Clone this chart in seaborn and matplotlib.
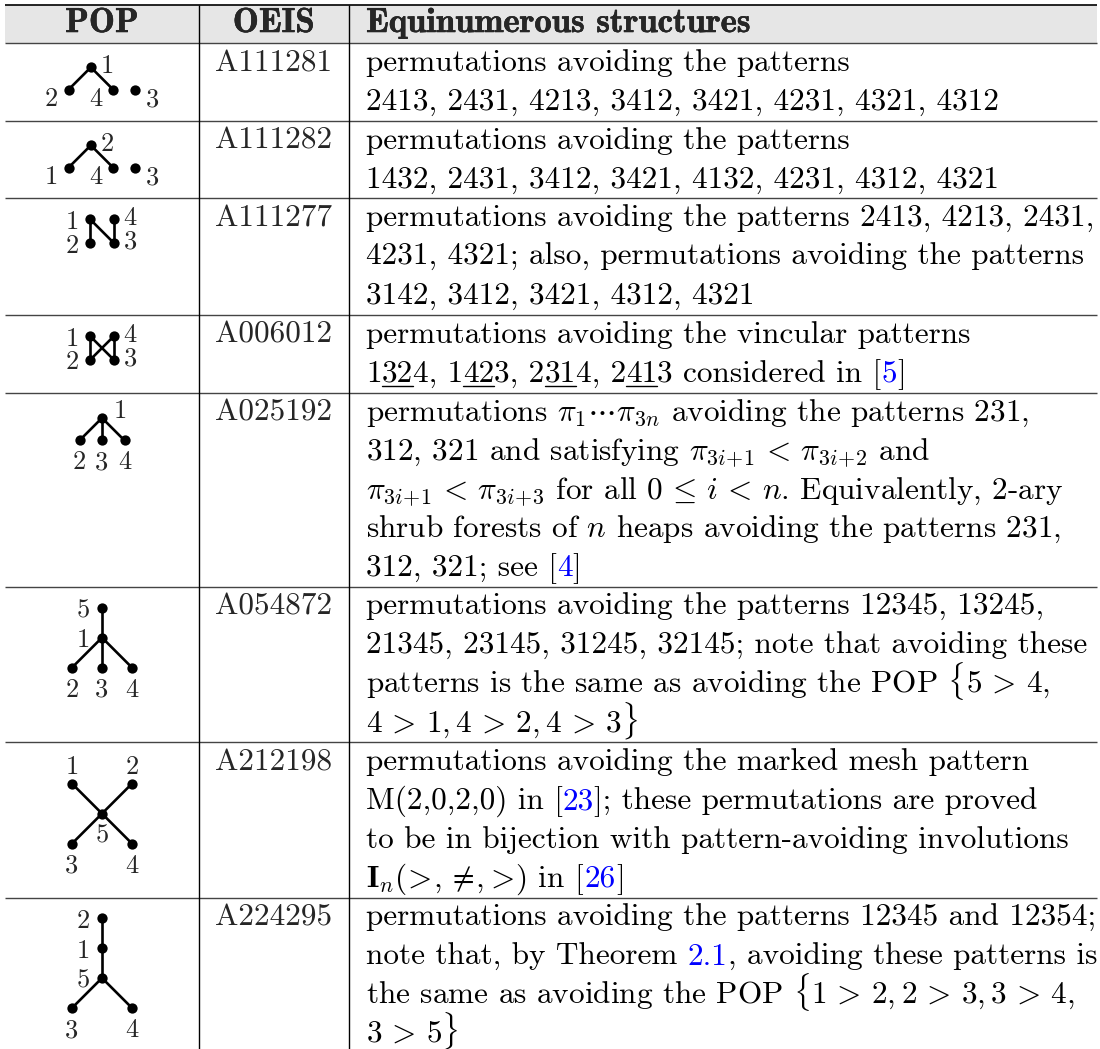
import re
import matplotlib
matplotlib.use("Agg")
import matplotlib.pyplot as plt
import matplotlib.patheffects as pe
import seaborn as sns

# ---- table content ----
headers = ["POP", "OEIS", "Equinumerous structures"]

oeis_ids = ["A111281", "A111282", "A111277", "A006012",
            "A025192", "A054872", "A212198", "A224295"]

# «..» = blue link, ‹..› = underlined
descriptions = [
    ["permutations avoiding the patterns",
     "2413, 2431, 4213, 3412, 3421, 4231, 4321, 4312"],
    ["permutations avoiding the patterns",
     "1432, 2431, 3412, 3421, 4132, 4231, 4312, 4321"],
    ["permutations avoiding the patterns 2413, 4213, 2431,",
     "4231, 4321; also, permutations avoiding the patterns",
     "3142, 3412, 3421, 4312, 4321"],
    ["permutations avoiding the vincular patterns",
     "1‹32›4, 1‹42›3, 2‹31›4, 2‹41›3 considered in [«5»]"],
    [r"permutations $\pi_1\cdots\pi_{3n}$ avoiding the patterns 231,",
     r"312, 321 and satisfying $\pi_{3i\!+\!1}\,<\,\pi_{3i\!+\!2}$ and",
     r"$\pi_{3i\!+\!1}\,<\,\pi_{3i\!+\!3}$ for all $0\,\leq\,i\,<\,n$. Equivalently, 2-ary",
     r"shrub forests of $n$ heaps avoiding the patterns 231,",
     "312, 321; see [«4»]"],
    ["permutations avoiding the patterns 12345, 13245,",
     "21345, 23145, 31245, 32145; note that avoiding these",
     r"patterns is the same as avoiding the POP $\{5\,>\,4,$",
     r"$4\,>\,1,4\,>\,2,4\,>\,3\}$"],
    ["permutations avoiding the marked mesh pattern",
     "M(2,0,2,0) in [«23»]; these permutations are proved",
     "to be in bijection with pattern-avoiding involutions",
     r"$\mathbf{I}_n(\!>\!,\neq\!,\!>\!)$ in [«26»]"],
    ["permutations avoiding the patterns 12345 and 12354;",
     "note that, by Theorem «2.1», avoiding these patterns is",
     r"the same as avoiding the POP $\{1\,>\,2,2\,>\,3,3\,>\,4,$",
     r"$3\,>\,5\}$"],
]

# POP diagrams: node -> (column, level), edges, label side per node
pop_nodes = [
    {"1": (-0.5, 0), "2": (-1.5, 1), "4": (0.5, 1), "3": (1.5, 1)},
    {"2": (-0.5, 0), "1": (-1.5, 1), "4": (0.5, 1), "3": (1.5, 1)},
    {"1": (-0.5, 0), "4": (0.5, 0), "2": (-0.5, 1), "3": (0.5, 1)},
    {"1": (-0.5, 0), "4": (0.5, 0), "2": (-0.5, 1), "3": (0.5, 1)},
    {"1": (0, 0), "2": (-1, 1), "3": (0, 1), "4": (1, 1)},
    {"5": (0, 0), "1": (0, 1), "2": (-1, 2), "3": (0, 2), "4": (1, 2)},
    {"1": (-1, 0), "2": (1, 0), "5": (0, 1), "3": (-1, 2), "4": (1, 2)},
    {"2": (0, 0), "1": (0, 1), "5": (0, 2), "3": (-1, 3), "4": (1, 3)},
]
pop_edges = [
    [("1", "2"), ("1", "4")],
    [("2", "1"), ("2", "4")],
    [("1", "2"), ("1", "3"), ("4", "3")],
    [("1", "2"), ("4", "3"), ("1", "3"), ("4", "2")],
    [("1", "2"), ("1", "3"), ("1", "4")],
    [("5", "1"), ("1", "2"), ("1", "3"), ("1", "4")],
    [("1", "5"), ("2", "5"), ("5", "3"), ("5", "4")],
    [("2", "1"), ("1", "5"), ("5", "3"), ("5", "4")],
]
pop_sides = [
    {"1": "E", "2": "SW", "4": "SW", "3": "SE"},
    {"2": "E", "1": "SW", "4": "SW", "3": "SE"},
    {"1": "W", "4": "E", "2": "W", "3": "E"},
    {"1": "W", "4": "E", "2": "W", "3": "E"},
    {"1": "NE", "2": "S", "3": "S", "4": "S"},
    {"5": "W", "1": "W", "2": "S", "3": "S", "4": "S"},
    {"1": "N", "2": "N", "5": "S", "3": "S", "4": "S"},
    {"2": "W", "1": "W", "5": "W", "3": "S", "4": "S"},
]
# layout of each diagram: pixels per unit, offset of level 0 below row top
pop_unit = [22.3, 22.3, 23.5, 23.5, 22.5, 30, 30, 30]
pop_y0 = [24.3, 24.6, 21.0, 21.3, 25.3, 20.7, 41.3, 20.3]
side_px = {"E": (16.5, -2.5), "W": (-18.3, 1.5), "S": (0, 20.8), "N": (0, -18.3),
           "NE": (18.3, -8.3), "SW": (-17.2, 8.7), "SE": (16.7, 8.7)}

# ---- style ----
sns.set_theme(style="white")
plt.rcParams["mathtext.fontset"] = "cm"
plt.rcParams["axes.unicode_minus"] = False

W, H = 1100, 1049
FS = 22.5
FS_HEAD = 25
FS_LAB = 19
LINE = 38.85
X_L, X_R = 5, 1097
X_C1, X_C2 = 199, 348.5
HEAD_TOP, HEAD_BOT = 4.5, 43
TEXT_X = 366
LINK = "#0000ff"

fig = plt.figure(figsize=(W / 100, H / 100), dpi=100)
ax = fig.add_axes([0, 0, 1, 1])
ax.set_xlim(0, W)
ax.set_ylim(H, 0)
ax.axis("off")
renderer = fig.canvas.get_renderer()


def text_width(s):
    t = ax.text(0, 0, s, fontsize=FS, family="cmr10")
    w = t.get_window_extent(renderer).width
    t.remove()
    return w


def draw_line(x, y, line):
    parts = re.split(r"(«[^»]*»|‹[^›]*›)", line)
    prefix = ""
    for p in parts:
        if not p:
            continue
        style = "n"
        if p.startswith("«"):
            style, p = "link", p[1:-1]
        elif p.startswith("‹"):
            style, p = "ul", p[1:-1]
        dx = text_width(prefix + "x") - text_width("x") if prefix else 0
        ax.text(x + dx, y, p, fontsize=FS, family="cmr10", va="baseline", ha="left",
                color=LINK if style == "link" else "black")
        if style == "ul":
            w = text_width(p)
            ax.plot([x + dx, x + dx + w], [y + 4.5, y + 4.5], color="black", lw=1.0)
        prefix += p


# header
bold = [pe.withStroke(linewidth=0.35, foreground="black")]
ax.fill_between([X_L, X_R], HEAD_TOP, HEAD_BOT, color="#e6e6e6", lw=0, zorder=0)
hb = HEAD_TOP + 27.5
ax.text((X_L + X_C1) / 2, hb, headers[0], fontsize=FS_HEAD, family="cmb10",
        ha="center", va="baseline", path_effects=bold)
ax.text((X_C1 + X_C2) / 2, hb, headers[1], fontsize=FS_HEAD, family="cmb10",
        ha="center", va="baseline", path_effects=bold)
ax.text(TEXT_X, hb, headers[2], fontsize=FS_HEAD, family="cmb10",
        ha="left", va="baseline", path_effects=bold)

# rows
row_tops = [HEAD_BOT]
for lines in descriptions:
    row_tops.append(row_tops[-1] + len(lines) * LINE)

ax.hlines([HEAD_TOP], X_L, X_R, color="black", lw=1.2)
ax.hlines(row_tops, X_L, X_R, color="#444444", lw=1.0)
ax.vlines([X_C1, X_C2], HEAD_TOP, H, color="black", lw=1.0)

for i, lines in enumerate(descriptions):
    top = row_tops[i]
    base = top + 28
    ax.text((X_C1 + X_C2) / 2, base, oeis_ids[i], fontsize=FS, family="cmr10",
            ha="center", va="baseline")
    for j, line in enumerate(lines):
        draw_line(TEXT_X, base + j * LINE, line)

    # POP diagram in its own axes, coordinates in grid units
    s = pop_unit[i]
    y0 = pop_y0[i]
    h = row_tops[i + 1] - top
    cx = (X_L + X_C1) / 2
    pax = fig.add_axes([X_L / W, 1 - (top + h) / H, (X_C1 - X_L) / W, h / H])
    nodes = pop_nodes[i]
    for a, b in pop_edges[i]:
        pax.plot([nodes[a][0], nodes[b][0]], [nodes[a][1], nodes[b][1]],
                 color="black", lw=1.9, solid_capstyle="round", clip_on=False, zorder=2)
    xs = [v[0] for v in nodes.values()]
    ys = [v[1] for v in nodes.values()]
    sns.scatterplot(x=xs, y=ys, ax=pax, color="black", s=55, linewidth=0,
                    legend=False, zorder=3, clip_on=False)
    pax.set_xlim((X_L - cx) / s, (X_C1 - cx) / s)
    pax.set_ylim((h - y0) / s, -y0 / s)
    pax.axis("off")
    pax.patch.set_alpha(0)
    for lab, side in pop_sides[i].items():
        dx, dy = side_px[side]
        nx, ny = nodes[lab]
        pax.text(nx + dx / s, ny + (dy + 8.2) / s, lab, fontsize=FS_LAB, family="cmr10",
                 ha="center", va="baseline", clip_on=False)

fig.savefig("out.png", dpi=100)
